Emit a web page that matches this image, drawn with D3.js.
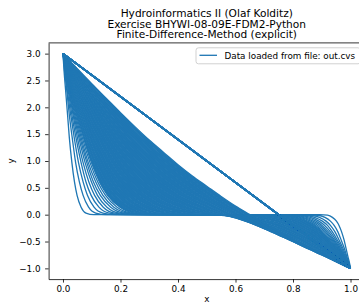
<!DOCTYPE html>
<html><head><meta charset="utf-8">
<script src="https://cdn.jsdelivr.net/npm/d3@7"></script>
<style>
html,body{margin:0;padding:0;background:#fff;overflow:hidden;}
svg{display:block;font-family:"DejaVu Sans",sans-serif;}
</style></head><body>
<svg id="chart" width="359" height="303"></svg>
<script>
// ---------------- data ----------------
const titleLines = ["Hydroinformatics II (Olaf Kolditz)", "Exercise BHYWI-08-09E-FDM2-Python", "Finite-Difference-Method (explicit)"];
const legendLabel = "Data loaded from file: out.cvs";
const xLabel = "x";
const yLabel = "y";
const xTicks = [0, 0.2, 0.4, 0.6, 0.8, 1.0];
const yTicks = [-1, -0.5, 0, 0.5, 1, 1.5, 2, 2.5, 3];

// early time steps: the two diffusion fronts (left from u=3, right from u=-1)
// u levels crossed by each front, and distance of each crossing from its boundary
const frontLevelsLeft  = [3, 2.66, 2.33, 1.86, 1.44, 0.97, 0.61, 0.36, 0.14, 0.03, 0];
const frontLevelsRight = [-1, -0.89, -0.78, -0.62, -0.48, -0.32, -0.2, -0.12, -0.05, -0.01, 0];
const earlySteps = [1, 2, 3, 4, 5, 6, 7, 8, 9, 10, 12, 14, 17, 20];
const earlyOffsets = [
  [0, 0.004, 0.009, 0.016, 0.022, 0.031, 0.040, 0.049, 0.063, 0.080, 0.107],
  [0, 0.006, 0.013, 0.022, 0.032, 0.044, 0.057, 0.070, 0.089, 0.114, 0.152],
  [0, 0.008, 0.015, 0.027, 0.039, 0.054, 0.070, 0.085, 0.108, 0.139, 0.186],
  [0, 0.009, 0.018, 0.031, 0.045, 0.063, 0.080, 0.098, 0.125, 0.161, 0.215],
  [0, 0.010, 0.020, 0.035, 0.050, 0.070, 0.090, 0.110, 0.140, 0.180, 0.240],
  [0, 0.011, 0.022, 0.038, 0.055, 0.077, 0.099, 0.120, 0.153, 0.197, 0.263],
  [0, 0.012, 0.024, 0.041, 0.059, 0.083, 0.106, 0.130, 0.166, 0.213, 0.284],
  [0, 0.013, 0.025, 0.044, 0.063, 0.088, 0.114, 0.139, 0.177, 0.228, 0.303],
  [0, 0.013, 0.027, 0.047, 0.067, 0.094, 0.121, 0.148, 0.188, 0.241, 0.322],
  [0, 0.014, 0.028, 0.049, 0.071, 0.099, 0.127, 0.155, 0.198, 0.254, 0.339],
  [0, 0.015, 0.031, 0.054, 0.077, 0.108, 0.139, 0.170, 0.217, 0.279, 0.372],
  [0, 0.017, 0.033, 0.059, 0.084, 0.117, 0.151, 0.184, 0.234, 0.301, 0.402],
  [0, 0.018, 0.037, 0.065, 0.092, 0.129, 0.166, 0.203, 0.258, 0.332, 0.442],
  [0, 0.020, 0.040, 0.070, 0.100, 0.140, 0.180, 0.220, 0.280, 0.360, 0.480]
];

// later time steps: full profiles on a fixed x grid
const gridX = [0, 0.025, 0.05, 0.075, 0.1, 0.15, 0.2, 0.25, 0.3, 0.35, 0.4, 0.45, 0.5, 0.55, 0.6, 0.65, 0.7, 0.75, 0.8, 0.85, 0.9, 0.925, 0.95, 0.975, 1];
const lateSteps = [24, 29, 35, 42, 50, 60, 72, 86, 102, 120, 145, 170, 200];
const lateProfiles = [
  [3, 2.62, 2.24, 1.89, 1.56, 1.0, 0.59, 0.32, 0.16, 0.07, 0.03, 0.01, 0, 0, -0.01, -0.02, -0.05, -0.11, -0.2, -0.33, -0.52, -0.63, -0.75, -0.87, -1],
  [3, 2.65, 2.31, 1.98, 1.67, 1.14, 0.72, 0.43, 0.24, 0.12, 0.06, 0.02, 0.01, 0, -0.02, -0.04, -0.08, -0.14, -0.24, -0.38, -0.56, -0.66, -0.77, -0.88, -1],
  [3, 2.68, 2.37, 2.07, 1.78, 1.27, 0.86, 0.55, 0.33, 0.18, 0.1, 0.05, 0.02, -0.01, -0.03, -0.06, -0.11, -0.18, -0.29, -0.42, -0.59, -0.69, -0.79, -0.89, -1],
  [3, 2.71, 2.42, 2.14, 1.88, 1.39, 0.99, 0.67, 0.43, 0.26, 0.15, 0.08, 0.03, -0.01, -0.04, -0.08, -0.14, -0.22, -0.33, -0.46, -0.63, -0.71, -0.81, -0.9, -1],
  [3, 2.73, 2.47, 2.21, 1.97, 1.51, 1.11, 0.79, 0.54, 0.35, 0.22, 0.12, 0.05, 0, -0.05, -0.11, -0.18, -0.26, -0.37, -0.5, -0.66, -0.74, -0.82, -0.91, -1],
  [3, 2.76, 2.52, 2.28, 2.05, 1.62, 1.24, 0.92, 0.66, 0.45, 0.29, 0.17, 0.08, 0.01, -0.06, -0.13, -0.21, -0.3, -0.41, -0.54, -0.68, -0.76, -0.84, -0.92, -1],
  [3, 2.78, 2.56, 2.34, 2.13, 1.73, 1.37, 1.05, 0.78, 0.56, 0.38, 0.24, 0.13, 0.03, -0.06, -0.15, -0.24, -0.34, -0.45, -0.57, -0.71, -0.78, -0.85, -0.93, -1],
  [3, 2.8, 2.59, 2.39, 2.2, 1.82, 1.48, 1.17, 0.9, 0.67, 0.48, 0.31, 0.18, 0.06, -0.05, -0.15, -0.26, -0.36, -0.48, -0.6, -0.73, -0.79, -0.86, -0.93, -1],
  [3, 2.81, 2.63, 2.44, 2.26, 1.91, 1.58, 1.28, 1.01, 0.78, 0.57, 0.39, 0.24, 0.1, -0.03, -0.15, -0.26, -0.38, -0.5, -0.62, -0.74, -0.81, -0.87, -0.94, -1],
  [3, 2.83, 2.65, 2.48, 2.31, 1.98, 1.67, 1.38, 1.12, 0.88, 0.66, 0.47, 0.3, 0.14, 0, -0.13, -0.26, -0.38, -0.5, -0.63, -0.75, -0.81, -0.87, -0.94, -1],
  [3, 2.84, 2.68, 2.52, 2.36, 2.06, 1.76, 1.49, 1.23, 0.99, 0.77, 0.56, 0.38, 0.21, 0.05, -0.1, -0.24, -0.37, -0.5, -0.63, -0.75, -0.81, -0.88, -0.94, -1],
  [3, 2.85, 2.7, 2.55, 2.4, 2.11, 1.83, 1.57, 1.31, 1.07, 0.85, 0.64, 0.45, 0.27, 0.1, -0.05, -0.2, -0.35, -0.48, -0.61, -0.74, -0.81, -0.87, -0.94, -1],
  [3, 2.86, 2.72, 2.58, 2.44, 2.17, 1.9, 1.64, 1.39, 1.16, 0.93, 0.72, 0.53, 0.34, 0.16, 0, -0.16, -0.31, -0.46, -0.6, -0.73, -0.8, -0.87, -0.93, -1]
];
// time step from which the plotted curves are so dense that they merge into a solid mass
const mergedFromStep = 10;

// ---------------- layout ----------------
const COLOR = "#1f77b4";
const M = {left: 48.6, top: 42.9, right: 364.9, bottom: 279.1};
const x = d3.scaleLinear().domain([-0.05, 1.05]).range([M.left, M.right]);
const y = d3.scaleLinear().domain([-1.2, 3.2]).range([M.bottom, M.top]);

const svg = d3.select("#chart");
svg.append("defs").append("clipPath").attr("id", "plotclip")
  .append("rect").attr("x", M.left).attr("y", M.top)
  .attr("width", M.right - M.left).attr("height", M.bottom - M.top);

// build point lists
const earlyPts = earlyOffsets.map(off => {
  const left = off.map((d, j) => [d, frontLevelsLeft[j]]);
  const right = off.map((d, j) => [1 - d, frontLevelsRight[j]]).reverse();
  return left.concat(right);
});
const latePts = lateProfiles.map(vals => gridX.map((gx, i) => [gx, vals[i]]));
const allPts = earlyPts.concat(latePts);
const steps = earlySteps.concat(lateSteps);

const line = d3.line().x(d => x(d[0])).y(d => y(d[1])).curve(d3.curveMonotoneX);
const straight = d3.line().x(d => x(d[0])).y(d => y(d[1]));

const plot = svg.append("g").attr("clip-path", "url(#plotclip)");

// dense families of curves (merged visually) between consecutive stored steps
const i0 = steps.indexOf(mergedFromStep);
const bands = d3.range(i0, allPts.length - 1).map(i => [allPts[i], allPts[i + 1]]);
plot.selectAll("path.band").data(bands).join("path").attr("class", "band")
  .attr("d", ([a, b]) => line(a) + "L" + line(b.slice().reverse()).slice(1) + "Z")
  .attr("fill", COLOR).attr("stroke", "none");

// profile curves
plot.selectAll("path.profile").data(allPts).join("path").attr("class", "profile")
  .attr("d", line).attr("fill", "none").attr("stroke", COLOR)
  .attr("stroke-width", 1.32).attr("stroke-linejoin", "round");

// the single line jumps back from x=1 to x=0 between time steps
const jumps = d3.range(allPts.length - 1).map(i => [allPts[i][allPts[i].length - 1], allPts[i + 1][0]]);
plot.selectAll("path.jump").data(jumps).join("path").attr("class", "jump")
  .attr("d", straight).attr("fill", "none").attr("stroke", COLOR).attr("stroke-width", 1.32);

// ---------------- axes ----------------
const fmt = d3.format(".1f");
const FS = 8.8;
const gX = svg.append("g").attr("transform", `translate(0,${M.bottom})`)
  .call(d3.axisBottom(x).tickValues(xTicks).tickFormat(fmt).tickSize(3.5).tickSizeOuter(0).tickPadding(3.5));
const gY = svg.append("g").attr("transform", `translate(${M.left},0)`)
  .call(d3.axisLeft(y).tickValues(yTicks).tickFormat(fmt).tickSize(3.5).tickSizeOuter(0).tickPadding(4.5));
[gX, gY].forEach(g => {
  g.attr("font-family", "DejaVu Sans, sans-serif").attr("font-size", FS).attr("color", "#000");
  g.selectAll("path.domain").attr("stroke-width", 0.8);
  g.selectAll(".tick line").attr("stroke-width", 0.8);
});
svg.append("line").attr("x1", M.left).attr("x2", M.right).attr("y1", M.top).attr("y2", M.top)
  .attr("stroke", "#000").attr("stroke-width", 0.8);
svg.append("line").attr("x1", M.right).attr("x2", M.right).attr("y1", M.top).attr("y2", M.bottom)
  .attr("stroke", "#000").attr("stroke-width", 0.8);

svg.append("text").attr("x", (M.left + M.right) / 2).attr("y", 301.8).attr("text-anchor", "middle")
  .attr("font-size", FS).attr("fill", "#000").text(xLabel);
svg.append("text").attr("transform", `translate(14,${(M.top + M.bottom) / 2}) rotate(-90)`)
  .attr("text-anchor", "middle").attr("font-size", FS).attr("fill", "#000").text(yLabel);

// ---------------- title ----------------
const titleBase = [17.2, 27.8, 38.3];
svg.append("g").selectAll("text").data(titleLines).join("text")
  .attr("x", (M.left + M.right) / 2).attr("y", (d, i) => titleBase[i])
  .attr("text-anchor", "middle").attr("font-size", 10.6).attr("fill", "#000").text(d => d);

// ---------------- legend ----------------
const lg = svg.append("g");
lg.append("rect").attr("x", 196).attr("y", 47.8).attr("width", 164.5).attr("height", 16)
  .attr("rx", 2.5).attr("fill", "#fff").attr("fill-opacity", 0.8)
  .attr("stroke", "#cccccc").attr("stroke-width", 0.9);
lg.append("line").attr("x1", 199.5).attr("x2", 217).attr("y1", 55.3).attr("y2", 55.3)
  .attr("stroke", COLOR).attr("stroke-width", 1.32);
lg.append("text").attr("x", 224.5).attr("y", 58.6).attr("font-size", FS).attr("fill", "#000").text(legendLabel);
</script>
</body></html>
